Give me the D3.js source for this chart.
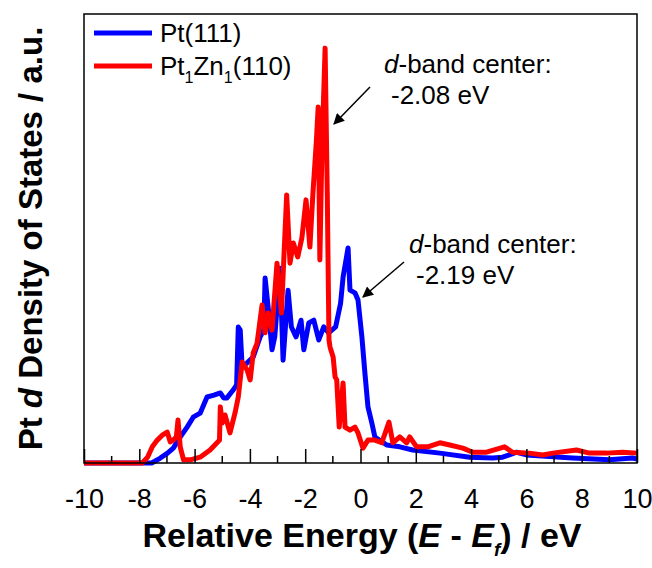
<!DOCTYPE html>
<html>
<head>
<meta charset="utf-8">
<script src="https://cdn.jsdelivr.net/npm/d3@7"></script>
<style>
  body { margin: 0; background: #fff; }
  svg { display: block; font-family: Arial, "Liberation Sans", sans-serif; }
  .curve { fill: none; stroke-width: 5px; stroke-linejoin: round; }
  .frame { fill: none; stroke: #000; stroke-width: 1.5px; }
  .tick line { stroke: #000; stroke-width: 1.5px; }
</style>
</head>
<body>
<svg id="chart" width="652" height="568"></svg>
<script>
// energies (eV) and Pt d-DOS (a.u.)
var ptE = [-10, -7.55, -7.24, -6.98, -6.77, -6.52, -6.27, -6.05, -5.8, -5.55, -5.3, -5.07, -4.95, -4.83, -4.6, -4.48,
  -4.42, -4.35, -4.28, -4.1, -3.88, -3.63, -3.5, -3.45, -3.34, -3.2, -3.1, -2.91, -2.8, -2.62, -2.5, -2.33, -2.15,
  -2.05, -1.87, -1.69, -1.51, -1.33, -1.15, -0.9, -0.72, -0.63, -0.45, -0.38, -0.2, -0.09, 0.05, 0.16, 0.27, 0.41,
  0.52, 0.95, 1.42, 1.89, 2.87, 3.95, 4.78, 5.14, 5.65, 6.0, 7.67, 9.0, 9.83, 10];
var ptDos = [0, 0, 1.1, 2.2, 3.3, 5.8, 8.0, 10.2, 11.1, 14.7, 15.1, 15.6, 14.5, 14.5, 16.3, 17.4,
  30.3, 29.6, 21.4, 22.3, 23.6, 28.1, 29.6, 41.2, 34.7, 25.2, 28.1, 43.4, 22.9, 38.5, 30.3, 28.1, 31.8,
  25.2, 31.2, 31.8, 27.4, 30.3, 29.0, 30.3, 35.6, 41.4, 47.9, 38.5, 37.9, 36.3, 28.1, 20.0, 12.5, 8.9,
  5.8, 4.0, 3.6, 2.9, 2.2, 1.3, 1.1, 1.3, 2.4, 1.8, 1.1, 0.7, 1.1, 0.9];

var ptznE = [-10, -7.89, -7.7, -7.53, -7.35, -7.17, -6.99, -6.88, -6.77, -6.66, -6.6, -6.52, -6.4, -6.16, -5.8, -5.44,
  -5.19, -5.1, -5.07, -5.0, -4.9, -4.72, -4.54, -4.42, -4.28, -4.1, -3.99, -3.88, -3.74, -3.56, -3.45, -3.34, -3.2,
  -3.02, -2.86, -2.67, -2.55, -2.43, -2.27, -2.12, -1.97, -1.83, -1.72, -1.6, -1.53, -1.47, -1.4, -1.28, -1.2, -1.14,
  -1.1, -0.99, -0.92, -0.86, -0.77, -0.63, -0.56, -0.38, -0.2, -0.09, 0.09, 0.27, 0.52, 0.77, 1.03, 1.17, 1.42,
  1.67, 1.78, 2.03, 2.43, 2.87, 3.23, 3.7, 4.06, 4.56, 5.21, 5.5, 6.1, 6.59, 6.95, 7.81, 8.28, 8.9, 9.48, 10];
var ptznDos = [0, 0, 1.3, 3.6, 5.1, 6.2, 6.9, 4.7, 5.1, 5.8, 9.6, 3.6, 0.7, 0.7, 1.3, 2.9,
  4.5, 5.1, 12.5, 8.9, 10.7, 6.7, 11.1, 14.7, 22.5, 20.7, 18.5, 24.5, 26.7, 35.2, 29.0, 33.4, 29.6,
  44.5, 33.4, 59.7, 44.5, 49.0, 45.9, 50.1, 58.6, 48.1, 60.1, 71.3, 79.3, 45.2, 68.2, 92.4, 59.2, 27.4,
  25.8, 23.6, 19.2, 18.5, 8.0, 17.8, 8.0, 7.3, 8.0, 6.7, 3.3, 5.1, 5.1, 4.5, 9.1, 4.5, 5.8,
  4.5, 5.8, 3.6, 3.6, 4.5, 4.0, 3.3, 2.4, 2.4, 3.6, 2.4, 2.2, 1.8, 2.2, 2.9, 2.2, 2.2, 2.4, 2.2];

var seriesNames = ["Pt(111)", "Pt1Zn1(110)"];
var seriesColors = ["#0000ff", "#ff0000"];
var xTicks = [-10, -8, -6, -4, -2, 0, 2, 4, 6, 8, 10];

var svg = d3.select("#chart");
var margin = {top: 14, right: 15, bottom: 105, left: 84};
var width = 652 - margin.left - margin.right,
    height = 568 - margin.top - margin.bottom;

var x = d3.scaleLinear().domain([-10, 10]).range([0, width]);
var y = d3.scaleLinear().domain([0, 100]).range([height, 0]);

var g = svg.append("g").attr("transform", "translate(" + margin.left + "," + margin.top + ")");

var line = d3.line()
    .x(function(d) { return x(d[0]); })
    .y(function(d) { return y(d[1]); });

var series = [d3.zip(ptE, ptDos), d3.zip(ptznE, ptznDos)];

g.selectAll("path.curve")
  .data(series)
  .enter().append("path")
    .attr("class", "curve")
    .attr("stroke", function(d, i) { return seriesColors[i]; })
    .attr("d", line);

// ticks point inward
var minor = d3.range(-9, 10, 2);
var xAxis = g.append("g")
    .attr("class", "axis")
    .attr("transform", "translate(0," + height + ")")
    .call(d3.axisBottom(x).tickValues(xTicks).tickSize(-14).tickPadding(26)
      .tickFormat(function(d) { return String(d); }));
xAxis.select(".domain").remove();
xAxis.selectAll("text")
    .attr("font-size", 27)
    .attr("fill", "#000")
    .attr("font-family", "Arial, 'Liberation Sans', sans-serif");
g.append("g").selectAll("line")
  .data(minor)
  .enter().append("line")
    .attr("x1", x).attr("x2", x)
    .attr("y1", height).attr("y2", height - 7)
    .attr("stroke", "#000").attr("stroke-width", 1.5);

g.append("rect").attr("class", "frame")
  .attr("width", width).attr("height", height);

// legend
var legend = g.append("g").attr("transform", "translate(10,19)");
seriesNames.forEach(function(name, i) {
  var row = legend.append("g").attr("transform", "translate(0," + (i * 33) + ")");
  row.append("line").attr("x1", 0).attr("x2", 58)
    .attr("stroke", seriesColors[i]).attr("stroke-width", 5);
  var t = row.append("text").attr("x", 66).attr("y", 9).attr("font-size", 26);
  if (i === 0) {
    t.text(name);
  } else {
    t.append("tspan").text("Pt");
    t.append("tspan").attr("font-size", 16).attr("dy", 8).text("1");
    t.append("tspan").attr("dy", -8).text("Zn");
    t.append("tspan").attr("font-size", 16).attr("dy", 8).text("1");
    t.append("tspan").attr("dy", -8).text("(110)");
  }
});

// d-band center notes
var notes = [
  {x1: 370, y1: 87, x2: 334, y2: 124, tx: 384, ty: 73, val: "-2.08 eV"},
  {x1: 404, y1: 262, x2: 363, y2: 297, tx: 409, ty: 253, val: "-2.19 eV"}
];
svg.append("defs").append("marker")
    .attr("id", "arrow").attr("viewBox", "0 0 10 10")
    .attr("refX", 9).attr("refY", 5)
    .attr("markerWidth", 12).attr("markerHeight", 11)
    .attr("markerUnits", "userSpaceOnUse")
    .attr("orient", "auto")
  .append("path").attr("d", "M0,0L10,5L0,10z").attr("fill", "#000");

notes.forEach(function(n) {
  svg.append("line")
    .attr("x1", n.x1).attr("y1", n.y1).attr("x2", n.x2).attr("y2", n.y2)
    .attr("stroke", "#000").attr("stroke-width", 1.5)
    .attr("marker-end", "url(#arrow)");
  var t = svg.append("text").attr("x", n.tx).attr("y", n.ty).attr("font-size", 26);
  t.append("tspan").attr("font-style", "italic").text("d");
  t.append("tspan").text("-band center:");
  svg.append("text").attr("x", n.tx + 7).attr("y", n.ty + 31).attr("font-size", 26).text(n.val);
});

// axis titles
var xt = svg.append("text")
    .attr("x", 362).attr("y", 547)
    .attr("text-anchor", "middle")
    .attr("font-size", 34).attr("font-weight", "bold");
xt.append("tspan").text("Relative Energy (");
xt.append("tspan").attr("font-style", "italic").text("E");
xt.append("tspan").text(" - ");
xt.append("tspan").attr("font-style", "italic").text("E");
xt.append("tspan").attr("font-style", "italic").attr("font-size", 19).attr("dy", 9).text("f");
xt.append("tspan").attr("dy", -9).text(") / eV");

var yt = svg.append("text")
    .attr("transform", "translate(42," + (margin.top + height / 2) + ") rotate(-90)")
    .attr("text-anchor", "middle")
    .attr("font-size", 33).attr("font-weight", "bold");
yt.append("tspan").text("Pt ");
yt.append("tspan").attr("font-style", "italic").text("d");
yt.append("tspan").text(" Density of States / a.u.");
</script>
</body>
</html>
